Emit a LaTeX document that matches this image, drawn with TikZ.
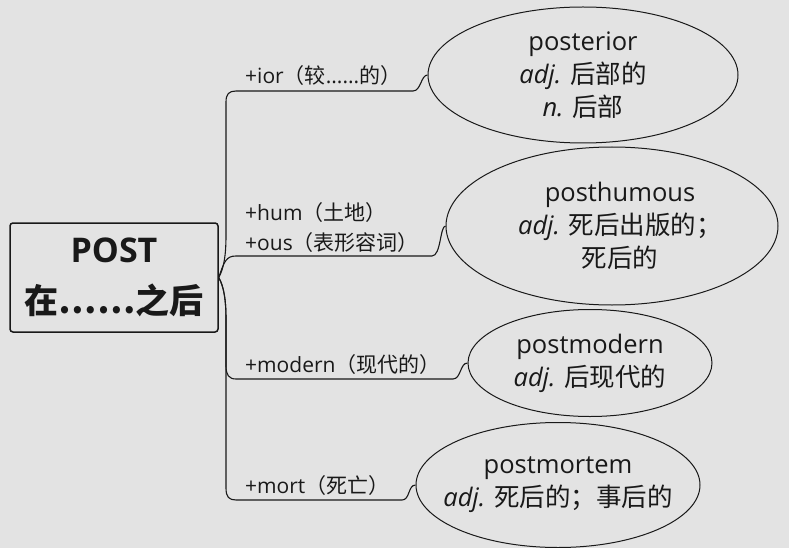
\documentclass[tikz,border=0pt]{standalone}
\usepackage{fontspec}
\setmainfont{Open Sans}
\newfontfamily\cjk{Noto Sans CJK SC}
\newcommand{\zh}[1]{{\cjk #1}}
\usetikzlibrary{shapes.geometric,positioning}
\definecolor{paper}{gray}{0.89}
\definecolor{ink}{gray}{0.1}

\begin{document}
\begin{tikzpicture}[x=1pt,y=-1pt]
\tikzstyle{root}=[rectangle, draw=ink, line width=1.5pt, rounded corners=3pt, minimum width=208pt, minimum height=109pt, align=center, font=\fontsize{34}{51}\selectfont\bfseries, text=ink]
\tikzstyle{affix}=[anchor=base west, inner sep=0pt, font=\fontsize{21}{30}\selectfont, text=ink]
\tikzstyle{word}=[ellipse, draw=ink, line width=1pt, inner sep=0pt]
\tikzstyle{meaning}=[align=center, inner sep=0pt, font=\fontsize{25.5}{33}\selectfont, text=ink]
\tikzstyle{connect}=[draw=ink, line width=1.1pt]
  \useasboundingbox[fill=paper] (0,0) rectangle (789,548);
  \node[root] (post) at (114,277.5) {POST\\\zh{在……之后}};
  % the four words
  \node[word, minimum width=310pt, minimum height=136pt, label={[meaning]center:{posterior\\\textit{adj.} \zh{后部的}\\\textit{n.} \zh{后部}}}] (posterior) at (583,75) {};
  \node[word, minimum width=332pt, minimum height=158pt, label={[meaning, xshift=8pt]center:{posthumous\\\textit{adj.} \zh{死后出版的；}\\\zh{死后的}}}] (posthumous) at (612,226) {};
  \node[word, minimum width=244pt, minimum height=107pt, label={[meaning]center:{postmodern\\\textit{adj.} \zh{后现代的}}}] (postmodern) at (590,363) {};
  \node[word, minimum width=284pt, minimum height=125pt, label={[meaning]center:{postmortem\\\textit{adj.} \zh{死后的；事后的}}}] (postmortem) at (558,485) {};
  % affixes
  \node[affix] (ior) at (245,84) {+ior\zh{（较}......\zh{的）}};
  \node[affix] (hum) at (245,220) {+hum\zh{（土地）}};
  \node[affix] (ous) at (245,250) {+ous\zh{（表形容词）}};
  \node[affix] (modern) at (245,372) {+modern\zh{（现代的）}};
  \node[affix] (mort) at (245,493) {+mort\zh{（死亡）}};
  \coordinate (t1) at (236,91);  \coordinate (t1e) at (413,91);
  \coordinate (t2) at (236,256); \coordinate (t2e) at (432,256);
  \coordinate (t3) at (236,379); \coordinate (t3e) at (453,379);
  \coordinate (t4) at (236,500); \coordinate (t4e) at (402,500);
  \draw[connect] (post.east) .. controls (224,268) and (226,255) .. (226,235) -- (226,102)
     .. controls (226,94) and (229,91) .. (t1) -- (t1e) .. controls (421,91) and (421,75) .. (posterior.west);
  \draw[connect] (post.east) .. controls (224,262) and (226,256) .. (t2) -- (t2e)
     .. controls (441,256) and (440,226) .. (posthumous.west);
  \draw[connect] (post.east) .. controls (224,287) and (226,300) .. (226,320) -- (226,366)
     .. controls (226,375) and (229,379) .. (t3) -- (t3e) .. controls (461,379) and (460,363) .. (postmodern.west);
  \draw[connect] (post.east) .. controls (224,287) and (226,300) .. (226,320) -- (226,488)
     .. controls (226,497) and (229,500) .. (t4) -- (t4e) .. controls (410,500) and (408,485) .. (postmortem.west);
\end{tikzpicture}
\end{document}
